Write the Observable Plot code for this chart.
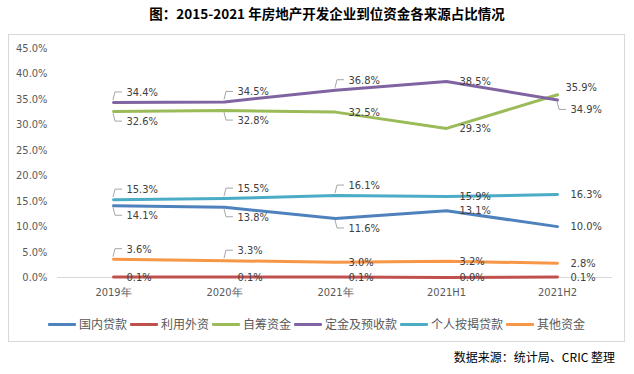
<!DOCTYPE html>
<html>
<head>
<meta charset="utf-8">
<script src="https://cdn.jsdelivr.net/npm/d3@7"></script>
<script src="https://cdn.jsdelivr.net/npm/@observablehq/plot@0.6"></script>
<style>
  body { margin: 0; background: #fff; }
  #wrap { position: relative; width: 634px; height: 374px; overflow: hidden; font-family: "Noto Sans CJK SC", sans-serif; }
  #title { position: absolute; left: 0; width: 654px; top: 4px; text-align: center; font-size: 13.5px; font-weight: bold; color: #000; line-height: 18px; }
  #box { position: absolute; left: 8px; top: 34px; width: 615px; height: 306px; border: 1px solid #D9D9D9; }
  #chart { position: absolute; left: 0; top: 0; }
  #legend { position: absolute; left: 0; width: 615px; top: 281px; display: flex; justify-content: center; align-items: center; font-size: 12px; color: #595959; line-height: 16px; }
  .item { display: flex; align-items: center; margin: 0 1.5px; }
  .sw { width: 28px; height: 3px; margin-right: 3px; border-radius: 1px; }
  #source { position: absolute; right: 19px; top: 349px; font-size: 12px; color: #000; line-height: 16px; }
</style>
</head>
<body>
<div id="wrap">
  <div id="title">图：2015-2021 年房地产开发企业到位资金各来源占比情况</div>
  <div id="box">
    <div id="chart"></div>
    <div id="legend"></div>
  </div>
  <div id="source">数据来源：统计局、CRIC 整理</div>
</div>
<script>
const categories = ["2019年", "2020年", "2021年", "2021H1", "2021H2"];
const seriesNames = ["国内贷款", "利用外资", "自筹资金", "定金及预收款", "个人按揭贷款", "其他资金"];
const seriesColors = ["#4F81BD", "#C0504D", "#9BBB59", "#8064A2", "#4BACC6", "#F79646"];
const domesticLoans = [14.1, 13.8, 11.6, 13.1, 10.0];
const foreignCapital = [0.1, 0.1, 0.1, 0.0, 0.1];
const selfRaised = [32.6, 32.8, 32.5, 29.3, 35.9];
const deposits = [34.4, 34.5, 36.8, 38.5, 34.9];
const mortgages = [15.3, 15.5, 16.1, 15.9, 16.3];
const otherFunds = [3.6, 3.3, 3.0, 3.2, 2.8];
const yTicks = [0, 5, 10, 15, 20, 25, 30, 35, 40, 45];
// label placement codes per series: a = above (with leader), b = below (with leader), r = right, n = above-right (no leader)
const labelPlacement = [
  ["b", "b", "b", "r", "r"],
  ["r", "r", "r", "r", "r"],
  ["b", "b", "r", "r", "n"],
  ["a", "a", "a", "r", "b"],
  ["a", "a", "a", "r", "r"],
  ["a", "a", "r", "r", "r"]
];

const seriesValues = [domesticLoans, foreignCapital, selfRaised, deposits, mortgages, otherFunds];
const rows = [];
seriesNames.forEach((s, si) => {
  categories.forEach((c, ci) => {
    rows.push({series: s, cat: c, v: seriesValues[si][ci], place: labelPlacement[si][ci]});
  });
});

const labelFont = `"Liberation Sans Narrow", "DejaVu Sans Condensed", sans-serif`;
const textFill = "#404040";
const fmt = v => v.toFixed(1) + "%";

const leaderRows = rows.filter(d => d.place === "a" || d.place === "b");

const textMark = (place, dx, dy) => Plot.text(rows.filter(d => d.place === place), {
  x: "cat", y: "v", text: d => fmt(d.v), dx, dy, textAnchor: "start",
  fill: textFill, fontSize: 11, fontFamily: labelFont
});

const chart = Plot.plot({
  width: 615,
  height: 270,
  marginLeft: 48,
  marginRight: 12,
  marginTop: 13,
  marginBottom: 28,
  style: {fontFamily: labelFont, fontSize: "11px", color: "#595959", background: "transparent"},
  x: {type: "point", domain: categories, padding: 0.5, label: null, tickSize: 0, tickPadding: 11},
  y: {domain: [0, 45], ticks: yTicks, tickFormat: fmt, label: null, tickSize: 0, tickPadding: 10},
  color: {domain: seriesNames, range: seriesColors},
  marks: [
    Plot.ruleY([0], {stroke: "#D9D9D9", strokeWidth: 1}),
    Plot.lineY(rows, {x: "cat", y: "v", z: "series", stroke: "series", strokeWidth: 3, strokeLinecap: "round"}),
    Plot.dot(leaderRows, {
      x: "cat", y: "v",
      render: (index, scales, values) => {
        const g = d3.create("svg:g").attr("fill", "none").attr("stroke", "#A6A6A6").attr("stroke-width", 1);
        for (const i of index) {
          const px = values.x[i], py = values.y[i];
          const s = leaderRows[i].place === "a" ? -1 : 1;
          g.append("path").attr("d", `M${px},${py + s * 2}L${px + 2},${py + s * 10}H${px + 9}`);
        }
        return g.node();
      }
    }),
    textMark("a", 13, -10),
    textMark("b", 13, 10),
    textMark("r", 13, 0),
    textMark("n", 8, -7)
  ]
});
document.getElementById("chart").appendChild(chart);

const legend = document.getElementById("legend");
seriesNames.forEach((s, i) => {
  const it = document.createElement("div");
  it.className = "item";
  const sw = document.createElement("div");
  sw.className = "sw";
  sw.style.background = seriesColors[i];
  const t = document.createElement("span");
  t.textContent = s;
  it.appendChild(sw);
  it.appendChild(t);
  legend.appendChild(it);
});
</script>
</body>
</html>
